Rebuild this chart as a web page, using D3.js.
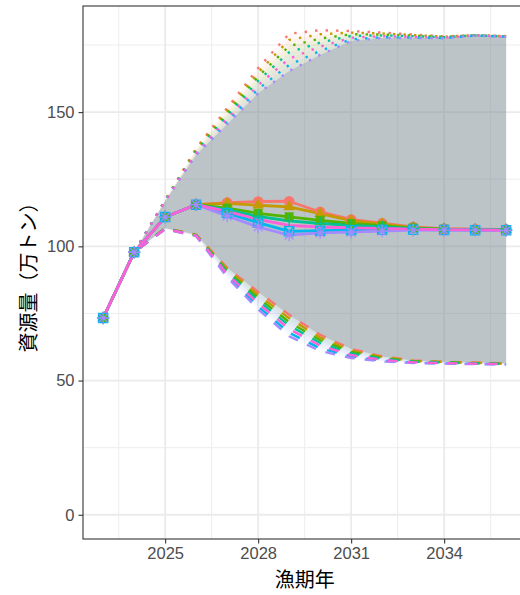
<!DOCTYPE html>
<html>
<head>
<meta charset="utf-8">
<script src="https://cdn.jsdelivr.net/npm/d3@7"></script>
<style>
  html, body { margin: 0; padding: 0; background: #ffffff; }
  svg { display: block; }
</style>
</head>
<body>
<svg id="chart" width="520" height="595"></svg>
<script>
// ---- data -------------------------------------------------------------
const years = [2023, 2024, 2025, 2026, 2027, 2028, 2029, 2030, 2031, 2032, 2033, 2034, 2035, 2036];

const scenarios = ["s1", "s2", "s3", "s4", "s5", "s6", "s7"];
const scenarioColors = ["#F8766D", "#C49A00", "#53B400", "#00C094", "#00B6EB", "#A58AFF", "#FB61D7"];
const scenarioShapes = ["circle", "triangle", "square", "plus", "boxX", "asterisk", null];

// mean biomass (10^4 t)
const meanValues = [
  [73.3, 97.8, 110.9, 115.5, 116.3, 116.7, 116.8, 112.8, 110.0, 108.6, 107.2, 106.6, 106.4, 106.3],
  [73.3, 97.8, 110.9, 115.5, 116.0, 115.3, 114.7, 112.2, 109.6, 108.3, 107.0, 106.5, 106.3, 106.2],
  [73.3, 97.8, 110.9, 115.5, 114.2, 112.3, 111.0, 109.7, 108.5, 107.7, 106.8, 106.4, 106.3, 106.2],
  [73.3, 97.8, 110.9, 115.5, 113.6, 111.2, 109.5, 108.5, 107.8, 107.2, 106.6, 106.3, 106.2, 106.1],
  [73.3, 97.8, 110.9, 115.5, 112.4, 108.8, 105.6, 105.8, 106.0, 106.2, 106.2, 106.1, 106.0, 106.0],
  [73.3, 97.8, 110.9, 115.5, 111.3, 107.2, 104.2, 105.0, 105.3, 105.7, 106.0, 106.0, 106.0, 105.9],
  [73.3, 97.8, 110.9, 115.5, 113.0, 110.0, 107.8, 107.2, 106.9, 106.7, 106.4, 106.2, 106.1, 106.0]
];

// upper bound of the projection interval
const upperValues = [
  [73.3, 97.8, 117.2, 136.5, 151.5, 166.4, 179.2, 180.5, 180.2, 179.6, 178.9, 178.2, 178.7, 178.3],
  [73.3, 97.8, 117.1, 136.1, 150.5, 164.8, 176.9, 179.0, 179.6, 179.3, 178.7, 178.1, 178.7, 178.3],
  [73.3, 97.8, 117.1, 135.7, 149.5, 163.3, 174.6, 177.4, 179.0, 178.9, 178.5, 178.0, 178.6, 178.2],
  [73.3, 97.8, 117.0, 135.3, 148.5, 161.7, 172.3, 175.9, 178.4, 178.6, 178.3, 177.9, 178.6, 178.2],
  [73.3, 97.8, 116.9, 134.4, 146.5, 158.6, 167.6, 172.8, 177.1, 177.9, 177.8, 177.6, 178.5, 178.1],
  [73.3, 97.8, 116.8, 134.0, 145.5, 157.0, 165.3, 171.3, 176.5, 177.6, 177.6, 177.5, 178.5, 178.0],
  [73.3, 97.8, 116.9, 134.8, 147.5, 160.1, 169.9, 174.4, 177.7, 178.3, 178.0, 177.7, 178.6, 178.1]
];

// lower bound of the projection interval
const lowerValues = [
  [73.3, 97.8, 106.8, 104.4, 92.0, 83.0, 74.5, 67.0, 61.8, 59.0, 57.5, 57.0, 56.7, 56.4],
  [73.3, 97.8, 106.7, 104.3, 91.4, 81.9, 73.2, 66.0, 61.2, 58.7, 57.3, 56.9, 56.6, 56.3],
  [73.3, 97.8, 106.7, 104.2, 90.8, 80.8, 71.8, 65.0, 60.7, 58.4, 57.2, 56.8, 56.5, 56.3],
  [73.3, 97.8, 106.6, 104.1, 90.3, 79.8, 70.5, 64.0, 60.1, 58.1, 57.0, 56.7, 56.4, 56.2],
  [73.3, 97.8, 106.5, 103.9, 89.1, 77.6, 67.8, 62.0, 59.0, 57.4, 56.7, 56.4, 56.2, 56.1],
  [73.3, 97.8, 106.4, 103.8, 88.5, 76.5, 66.5, 61.0, 58.4, 57.1, 56.5, 56.3, 56.1, 56.0],
  [73.3, 97.8, 106.5, 104.0, 89.7, 78.7, 69.2, 63.0, 59.5, 57.7, 56.8, 56.5, 56.3, 56.1]
];

const xTicks = [2025, 2028, 2031, 2034];
const xMinorTicks = [2023.5, 2026.5, 2029.5, 2032.5, 2035.5];
const yTicks = [0, 50, 100, 150];
const yMinorTicks = [25, 75, 125, 175];

const xTitle = "漁期年";
const yTitle = "資源量（万トン）";

// ---- layout -----------------------------------------------------------
const svg = d3.select("#chart");
const panel = { left: 83, top: 6, right: 526.3, bottom: 539 };

const xSpan = years[years.length - 1] - years[0];
const x = d3.scaleLinear()
  .domain([years[0] - 0.05 * xSpan, years[years.length - 1] + 0.05 * xSpan])
  .range([panel.left, panel.right]);

const yMax = d3.max(upperValues, s => d3.max(s));
const yPad = 0.05 * yMax;
const y = d3.scaleLinear()
  .domain([0 - yPad, yMax + yPad])
  .range([panel.bottom, panel.top]);

const tickFont = "'Liberation Sans', Arial, 'DejaVu Sans', sans-serif";
const titleFont = "'Noto Sans CJK JP', 'Noto Sans CJK SC', sans-serif";

svg.append("defs").append("clipPath").attr("id", "panel-clip")
  .append("rect")
  .attr("x", panel.left).attr("y", panel.top)
  .attr("width", panel.right - panel.left).attr("height", panel.bottom - panel.top);

// ---- grid -------------------------------------------------------------
const grid = svg.append("g");
grid.selectAll("line.xminor").data(xMinorTicks).join("line")
  .attr("x1", d => x(d)).attr("x2", d => x(d))
  .attr("y1", panel.top).attr("y2", panel.bottom)
  .attr("stroke", "#EBEBEB").attr("stroke-width", 0.9);
grid.selectAll("line.yminor").data(yMinorTicks).join("line")
  .attr("y1", d => y(d)).attr("y2", d => y(d))
  .attr("x1", panel.left).attr("x2", panel.right)
  .attr("stroke", "#EBEBEB").attr("stroke-width", 0.9);
grid.selectAll("line.xmajor").data(xTicks).join("line")
  .attr("x1", d => x(d)).attr("x2", d => x(d))
  .attr("y1", panel.top).attr("y2", panel.bottom)
  .attr("stroke", "#EBEBEB").attr("stroke-width", 1.8);
grid.selectAll("line.ymajor").data(yTicks).join("line")
  .attr("y1", d => y(d)).attr("y2", d => y(d))
  .attr("x1", panel.left).attr("x2", panel.right)
  .attr("stroke", "#EBEBEB").attr("stroke-width", 1.8);

const plot = svg.append("g").attr("clip-path", "url(#panel-clip)");

// ---- interval ribbons -------------------------------------------------
const ribbonArea = d3.area()
  .x(d => x(d.year)).y0(d => y(d.lo)).y1(d => y(d.hi));

scenarios.forEach((s, i) => {
  const rows = years.map((yr, j) => ({ year: yr, lo: lowerValues[i][j], hi: upperValues[i][j] }));
  plot.append("path").datum(rows)
    .attr("d", ribbonArea)
    .attr("fill", scenarioColors[i])
    .attr("fill-opacity", 0.05);
});

// range shared by every scenario
const shared = years.map((yr, j) => ({
  year: yr,
  lo: d3.max(lowerValues, s => s[j]),
  hi: d3.min(upperValues, s => s[j])
}));
plot.append("path").datum(shared)
  .attr("d", ribbonArea)
  .attr("fill", "#7E8A9B")
  .attr("fill-opacity", 0.3);

// ---- bound lines ------------------------------------------------------
const line = d3.line().x(d => x(d.year)).y(d => y(d.v));

scenarios.forEach((s, i) => {
  plot.append("path")
    .datum(years.map((yr, j) => ({ year: yr, v: upperValues[i][j] })))
    .attr("d", line)
    .attr("fill", "none")
    .attr("stroke", scenarioColors[i])
    .attr("stroke-width", 2.4)
    .attr("stroke-dasharray", "2.4,8.1");
});
scenarios.forEach((s, i) => {
  plot.append("path")
    .datum(years.map((yr, j) => ({ year: yr, v: lowerValues[i][j] })))
    .attr("d", line)
    .attr("fill", "none")
    .attr("stroke", scenarioColors[i])
    .attr("stroke-width", 2.4)
    .attr("stroke-dasharray", "10,10");
});

// ---- mean lines -------------------------------------------------------
scenarios.forEach((s, i) => {
  plot.append("path")
    .datum(years.map((yr, j) => ({ year: yr, v: meanValues[i][j] })))
    .attr("d", line)
    .attr("fill", "none")
    .attr("stroke", scenarioColors[i])
    .attr("stroke-width", 2.8)
    .attr("stroke-linejoin", "round");
});

// ---- point markers ----------------------------------------------------
function markerPath(shape) {
  switch (shape) {
    case "circle":   return { d: d3.symbol(d3.symbolCircle, 90)(), filled: true };
    case "triangle": return { d: d3.symbol(d3.symbolTriangle, 58)(), filled: true };
    case "square":   return { d: d3.symbol(d3.symbolSquare, 80)(), filled: true };
    case "plus": {
      const r = 6.2;
      return { d: `M${-r},0H${r}M0,${-r}V${r}`, filled: false };
    }
    case "boxX": {
      const h = 4.6;
      return { d: `M${-h},${-h}H${h}V${h}H${-h}ZM${-h},${-h}L${h},${h}M${h},${-h}L${-h},${h}`, filled: false };
    }
    case "asterisk": {
      const r = 6.2, q = r * Math.SQRT1_2;
      return { d: `M${-r},0H${r}M0,${-r}V${r}M${-q},${-q}L${q},${q}M${q},${-q}L${-q},${q}`, filled: false };
    }
  }
  return null;
}

scenarios.forEach((s, i) => {
  const m = markerPath(scenarioShapes[i]);
  if (!m) return;
  plot.append("g").selectAll("path")
    .data(years.map((yr, j) => ({ year: yr, v: meanValues[i][j] })))
    .join("path")
    .attr("transform", d => `translate(${x(d.year)},${y(d.v)})`)
    .attr("d", m.d)
    .attr("fill", m.filled ? scenarioColors[i] : "none")
    .attr("stroke", m.filled ? "none" : scenarioColors[i])
    .attr("stroke-width", 1.3);
});

// ---- panel border -----------------------------------------------------
svg.append("rect")
  .attr("x", panel.left).attr("y", panel.top)
  .attr("width", panel.right - panel.left).attr("height", panel.bottom - panel.top)
  .attr("fill", "none").attr("stroke", "#333333").attr("stroke-width", 1.1);

// ---- axes -------------------------------------------------------------
const xAxis = svg.append("g")
  .attr("transform", `translate(0,${panel.bottom})`)
  .call(d3.axisBottom(x).tickValues(xTicks).tickFormat(d3.format("d")).tickSize(4.5).tickPadding(4));
const yAxis = svg.append("g")
  .attr("transform", `translate(${panel.left},0)`)
  .call(d3.axisLeft(y).tickValues(yTicks).tickFormat(d3.format("d")).tickSize(4.5).tickPadding(4));

[xAxis, yAxis].forEach(ax => {
  ax.select(".domain").remove();
  ax.selectAll(".tick line").attr("stroke", "#333333").attr("stroke-width", 1.1);
  ax.selectAll(".tick text")
    .attr("fill", "#4D4D4D")
    .style("font-family", tickFont)
    .style("font-size", "16.5px");
});

svg.append("text")
  .attr("x", (panel.left + panel.right) / 2)
  .attr("y", 578)
  .attr("text-anchor", "middle")
  .attr("dominant-baseline", "central")
  .style("font-family", titleFont)
  .style("font-size", "20px")
  .attr("fill", "#000000")
  .text(xTitle);

svg.append("text")
  .attr("transform", `translate(27,${(panel.top + panel.bottom) / 2}) rotate(-90)`)
  .attr("text-anchor", "middle")
  .attr("dominant-baseline", "central")
  .style("font-family", titleFont)
  .style("font-size", "20px")
  .attr("fill", "#000000")
  .text(yTitle);
</script>
</body>
</html>
